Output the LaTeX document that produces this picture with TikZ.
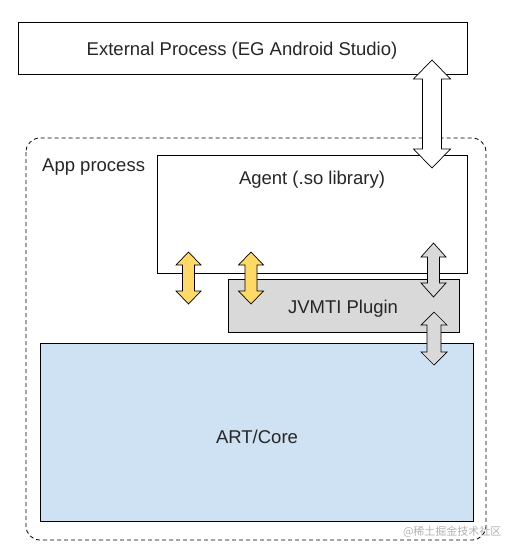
\documentclass[tikz,border=0pt]{standalone}
\usepackage{fontspec}
\setmainfont{Liberation Sans}
\newfontfamily\cjk{Noto Sans CJK SC}
\definecolor{artblue}{RGB}{207,226,243}
\definecolor{plugray}{RGB}{217,217,217}
\definecolor{arryel}{RGB}{255,217,102}
\begin{document}
\begin{tikzpicture}[x=1pt,y=-1pt,
  box/.style={draw=black, line width=0.8pt},
  lbl/.style={font=\fontsize{18.5}{21}\selectfont, text=black!85, inner sep=0pt},
  arr/.style={draw=black, line width=0.7pt, line join=miter}]
\useasboundingbox (0,0) rectangle (515,554);
\newcommand{\dblarrow}[7]{% cx, top, bottom, headlen, headhalf, shafthalf, fill
  \draw[arr, fill=#7] (#1,#2) -- (#1+#5,#2+#4) -- (#1+#6,#2+#4) -- (#1+#6,#3-#4) -- (#1+#5,#3-#4)
    -- (#1,#3) -- (#1-#5,#3-#4) -- (#1-#6,#3-#4) -- (#1-#6,#2+#4) -- (#1-#5,#2+#4) -- cycle;}
% app process container
\draw[dash pattern=on 4pt off 3pt, line width=0.8pt, rounded corners=14pt] (26,138) rectangle (486,540);
\node[lbl, anchor=west] (app) at (42,167.5) {App process};
% external
\draw[box, fill=white] (18,22) rectangle (467,74);
\node[lbl] (ext) at (242,50.5) {External Process (EG Android Studio)};
% agent
\draw[box, fill=white] (157,155) rectangle (467,273);
\node[lbl] (agent) at (312,179.5) {Agent (.so library)};
% ART
\draw[box, fill=artblue] (40,343) rectangle (473,521);
\node[lbl] (art) at (257,436.5) {ART/Core};
% JVMTI
\draw[box, fill=plugray] (228,279) rectangle (459,332);
\node[lbl] (jvmti) at (343,308.5) {JVMTI Plugin};
% arrows
\dblarrow{432}{60}{168}{19}{18.5}{9.5}{white}
\dblarrow{188.5}{252}{304}{13}{12.5}{6}{arryel}
\dblarrow{251}{252}{304}{13}{12.5}{6}{arryel}
\dblarrow{433.5}{243}{297}{14}{12.5}{6}{plugray}
\dblarrow{434}{312}{365}{13}{13}{7}{plugray}
% watermark
\node[font=\cjk\fontsize{11}{12}\selectfont, text=black!30, anchor=east] (wm) at (505,532) {@稀土掘金技术社区};
\end{tikzpicture}
\end{document}
